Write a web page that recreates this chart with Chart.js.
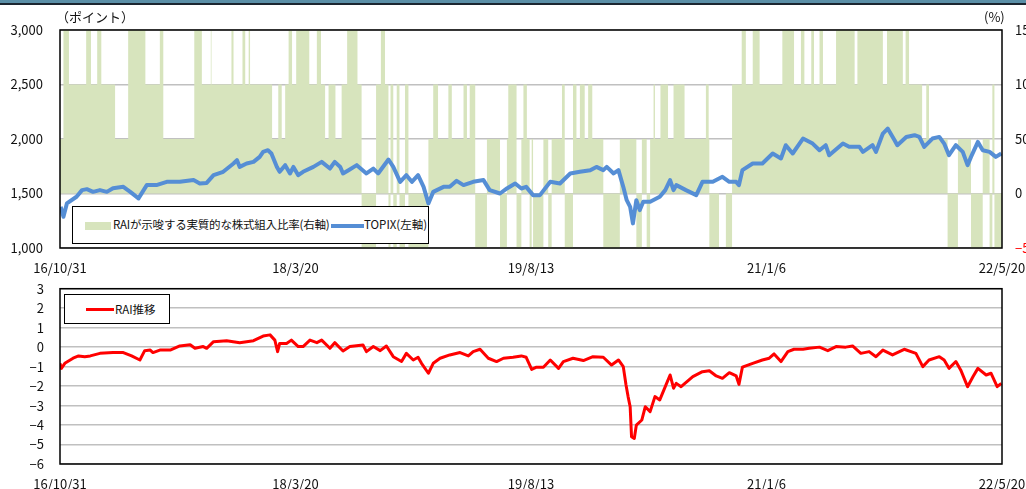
<!DOCTYPE html>
<html lang="ja">
<head>
<meta charset="UTF-8">
<title>RAI推移とTOPIX</title>
<script src="https://cdn.jsdelivr.net/npm/chart.js"></script>
<style>
  body { margin: 0; background: #fff; }
  #wrap { position: relative; width: 1026px; height: 489px; overflow: hidden; font-family: 'Noto Sans CJK JP', sans-serif; color: #111; }
  .band { position: absolute; left: 0; top: 0; width: 1026px; height: 3px; background: #5b8fa7; border-bottom: 2px solid #1c2630; }
  .cv { position: absolute; left: 0; width: 1026px; }
  #topBox { top: 0; height: 278px; }
  #botBox { top: 276px; height: 213px; }
  .unit { position: absolute; font-size: 13px; top: 7px; }
  .legend { position: absolute; background: #fff; border: 1px solid #000; font-size: 11.5px; }
  .legend > * { position: absolute; white-space: nowrap; }
</style>
</head>
<body>
<div id="wrap">
  <div class="band"></div>
  <div class="cv" id="topBox"><canvas id="topChart"></canvas></div>
  <div class="cv" id="botBox"><canvas id="botChart"></canvas></div>
  <div class="unit" style="left:56px">（ポイント）</div>
  <div class="unit" style="left:984px">(%)</div>
  <div class="legend" style="left:72px; top:206px; width:355px; height:36px;">
    <span style="left:12px; top:15px; width:26px; height:8px; background:#d7e4bd;"></span>
    <span style="left:40px; top:9px; letter-spacing:-0.2px;">RAIが示唆する実質的な株式組入比率(右軸)</span>
    <span style="left:258px; top:17px; width:33px; height:4px; background:#558ed5;"></span>
    <span style="left:291px; top:9px;">TOPIX(左軸)</span>
  </div>
  <div class="legend" style="left:64px; top:294px; width:104px; height:28px;">
    <span style="left:21px; top:13px; width:28px; height:3px; background:#ff0000;"></span>
    <span style="left:50px; top:6px;">RAI推移</span>
  </div>
</div>
<script>
// x positions are trading-day counts from 16/10/31
const tickDays = [0, 342, 684, 1026, 1368];
const tickLabels = ['16/10/31', '18/3/20', '19/8/13', '21/1/6', '22/5/20'];

// TOPIX (left axis)
const topixDays = [1, 5, 10, 24, 32, 39, 48, 58, 68, 77, 92, 102, 114, 126, 140, 155, 174, 194, 203, 213, 223, 237, 252, 257, 261, 271, 281, 290, 295, 302, 307, 315, 319, 327, 334, 339, 346, 353, 368, 380, 392, 399, 407, 411, 419, 431, 445, 455, 462, 477, 484, 494, 503, 511, 520, 528, 535, 542, 557, 566, 576, 586, 600, 615, 624, 639, 649, 661, 670, 677, 687, 697, 712, 726, 741, 755, 770, 779, 789, 794, 804, 811, 818, 823, 828, 832, 837, 842, 847, 857, 871, 879, 886, 891, 895, 900, 909, 924, 933, 948, 962, 972, 982, 986, 991, 1006, 1020, 1035, 1047, 1054, 1064, 1079, 1093, 1103, 1112, 1117, 1137, 1146, 1161, 1166, 1180, 1185, 1195, 1202, 1212, 1216, 1229, 1241, 1248, 1255, 1267, 1277, 1284, 1291, 1301, 1311, 1318, 1323, 1333, 1340, 1350, 1359, 1367];
const topixValues = [1378, 1287, 1409, 1470, 1531, 1540, 1515, 1531, 1515, 1549, 1561, 1515, 1455, 1577, 1577, 1607, 1607, 1623, 1592, 1597, 1668, 1699, 1775, 1806, 1744, 1775, 1790, 1836, 1882, 1897, 1867, 1744, 1699, 1760, 1684, 1744, 1668, 1699, 1744, 1790, 1729, 1790, 1744, 1684, 1714, 1760, 1684, 1729, 1684, 1812, 1744, 1607, 1668, 1607, 1668, 1561, 1409, 1515, 1561, 1561, 1616, 1577, 1607, 1623, 1531, 1500, 1546, 1592, 1546, 1561, 1485, 1485, 1607, 1592, 1684, 1699, 1714, 1744, 1714, 1744, 1684, 1714, 1561, 1439, 1378, 1226, 1439, 1348, 1424, 1424, 1470, 1531, 1623, 1531, 1577, 1561, 1531, 1485, 1607, 1607, 1653, 1607, 1607, 1577, 1714, 1775, 1775, 1867, 1821, 1943, 1867, 2004, 1958, 1897, 1943, 1851, 1958, 1928, 1928, 1882, 1943, 1882, 2050, 2096, 1989, 1943, 2019, 2035, 2019, 1928, 2004, 2019, 1958, 1851, 1943, 1882, 1760, 1836, 1973, 1897, 1882, 1836, 1867];

// RAI (bottom panel)
const raiDays = [0, 2, 7, 19, 27, 36, 44, 58, 77, 92, 104, 116, 123, 131, 135, 145, 160, 174, 189, 196, 208, 213, 223, 242, 261, 281, 295, 305, 312, 316, 319, 329, 336, 346, 353, 363, 373, 380, 392, 399, 411, 421, 440, 445, 455, 465, 474, 484, 496, 503, 513, 520, 525, 535, 542, 552, 566, 581, 593, 600, 610, 622, 634, 644, 658, 670, 677, 685, 692, 702, 712, 724, 731, 745, 760, 774, 789, 801, 811, 818, 822, 825, 828, 830, 834, 837, 845, 850, 857, 864, 871, 879, 886, 891, 895, 902, 919, 933, 943, 953, 962, 972, 982, 986, 991, 1006, 1020, 1030, 1037, 1047, 1057, 1066, 1079, 1088, 1103, 1115, 1127, 1141, 1151, 1163, 1175, 1185, 1195, 1209, 1226, 1243, 1253, 1262, 1277, 1284, 1291, 1301, 1308, 1318, 1326, 1333, 1345, 1352, 1361, 1367];
const raiValues = [-0.83, -1.09, -0.83, -0.57, -0.45, -0.49, -0.45, -0.32, -0.28, -0.28, -0.45, -0.66, -0.18, -0.15, -0.28, -0.15, -0.15, 0.06, 0.12, -0.06, 0.03, -0.06, 0.28, 0.33, 0.23, 0.33, 0.57, 0.63, 0.36, -0.23, 0.19, 0.19, 0.36, 0.03, 0.03, 0.36, 0.23, 0.36, -0.06, 0.23, -0.2, 0.03, 0.11, -0.23, 0.03, -0.18, 0.06, -0.49, -0.74, -0.32, -0.66, -0.52, -0.83, -1.34, -0.83, -0.57, -0.40, -0.28, -0.45, -0.23, -0.11, -0.57, -0.74, -0.57, -0.52, -0.45, -0.52, -1.14, -1.03, -1.03, -0.66, -1.09, -0.74, -0.57, -0.69, -0.49, -0.52, -0.92, -0.66, -1.00, -1.94, -2.54, -3.06, -4.60, -4.69, -4.00, -3.74, -3.06, -3.31, -2.54, -2.71, -2.03, -1.43, -2.11, -1.86, -2.03, -1.51, -1.26, -1.21, -1.48, -1.60, -1.31, -1.48, -1.91, -1.03, -0.83, -0.66, -0.57, -0.35, -0.74, -0.23, -0.11, -0.11, -0.06, 0.00, -0.18, 0.03, 0.00, 0.06, -0.32, -0.23, -0.49, -0.15, -0.40, -0.11, -0.32, -1.00, -0.66, -0.49, -0.66, -1.09, -0.74, -1.17, -2.03, -1.51, -1.09, -1.43, -1.34, -2.03, -1.86];

// equity ratio suggested by RAI (right axis, %): value holds from each day until the next one
const ratioDays = [0, 5, 13, 38, 45, 54, 60, 80, 99, 124, 145, 150, 195, 206, 219, 220, 249, 252, 265, 269, 274, 276, 308, 317, 322, 327, 332, 337, 343, 362, 373, 379, 385, 390, 400, 409, 417, 432, 438, 459, 466, 472, 477, 480, 484, 489, 493, 501, 506, 535, 542, 549, 564, 569, 586, 591, 595, 603, 620, 639, 649, 651, 663, 670, 673, 678, 682, 685, 687, 702, 709, 714, 729, 733, 745, 750, 755, 762, 767, 773, 789, 813, 837, 845, 852, 857, 862, 864, 872, 883, 891, 907, 938, 942, 943, 957, 967, 976, 990, 996, 1006, 1016, 1049, 1066, 1076, 1081, 1091, 1095, 1103, 1108, 1127, 1154, 1158, 1195, 1201, 1224, 1228, 1233, 1252, 1258, 1262, 1289, 1304, 1323, 1340, 1350, 1354, 1357, 1359, 1368];
const ratioValues = [-50, 50, 150, 100, 150, 100, 150, 100, 50, 150, 100, 150, 50, 150, 100, 150, 100, 150, 100, 150, 100, 150, 100, 50, 100, 50, 100, 150, 100, 150, 100, 150, 100, 50, 100, 50, 100, 150, 100, -50, 100, 150, 100, -50, 100, -50, 100, -50, 100, -50, 50, 100, 50, 100, 50, 100, 50, 100, -50, 50, -50, 50, 100, -50, 50, 100, 50, -50, 50, -50, 50, -50, 50, 100, -50, 100, 50, 100, 50, 100, 50, -50, 50, -50, 50, -50, 50, 100, 50, 100, 50, 100, 50, 100, 50, -50, 0, -50, 100, 150, 100, 150, 100, 150, 100, 150, 100, 150, 100, 150, 100, 150, 100, 150, 100, 150, 100, 150, 100, 50, 100, 50, -50, 50, -50, 50, -50, 100, -50, -50];

const GREEN = '#d7e4bd';
const BLUE = '#558ed5';
const RED = '#ff0000';
const GRID = '#c0c0c0';
const FONT = { family: "'Noto Sans CJK JP', sans-serif", size: 13 };

const minus = s => String(s).replace('-', '\u2212');
const toXY = (xs, ys) => xs.map((x, i) => ({ x: x, y: ys[i] }));

// plot frame like the spreadsheet plot area
const frame = {
  id: 'frame',
  afterDatasetsDraw(chart) {
    const a = chart.chartArea, c = chart.ctx;
    c.save();
    c.strokeStyle = '#000';
    c.lineWidth = 1.5;
    c.strokeRect(a.left, a.top, a.right - a.left, a.bottom - a.top);
    c.restore();
  }
};

function xAxis(h) {
  return {
    type: 'linear', min: 0, max: 1368,
    afterBuildTicks: s => { s.ticks = tickDays.map(v => ({ value: v })); },
    afterFit: s => { s.height = h; s.paddingLeft = 0; s.paddingRight = 0; },
    grid: { display: false, drawTicks: false },
    border: { display: false },
    ticks: {
      autoSkip: false, maxRotation: 0, padding: 12, color: '#111', font: FONT,
      callback: v => tickLabels[tickDays.indexOf(v)]
    }
  };
}

Chart.defaults.animation = false;
Chart.defaults.events = [];

new Chart(document.getElementById('topChart'), {
  type: 'line',
  data: {
    datasets: [
      {
        label: 'TOPIX(左軸)', data: toXY(topixDays, topixValues), yAxisID: 'y',
        borderColor: BLUE, borderWidth: 4, pointRadius: 0, borderJoinStyle: 'round', order: 1
      },
      {
        label: 'RAIが示唆する実質的な株式組入比率(右軸)', data: toXY(ratioDays, ratioValues), yAxisID: 'y1',
        stepped: 'after', fill: 'origin', backgroundColor: GREEN, borderColor: 'transparent', borderWidth: 0,
        pointRadius: 0, order: 2
      }
    ]
  },
  options: {
    responsive: true, maintainAspectRatio: false,
    layout: { padding: { top: 30, left: 0, right: 0, bottom: 0 } },
    plugins: { legend: { display: false }, tooltip: { enabled: false } },
    scales: {
      x: xAxis(30),
      y: {
        position: 'left', min: 1000, max: 3000,
        afterFit: s => { s.width = 60; s.paddingTop = 0; s.paddingBottom = 0; },
        grid: { color: GRID, lineWidth: 1.5, drawTicks: false },
        border: { display: false },
        ticks: { stepSize: 500, padding: 17, color: '#111', font: FONT, callback: v => v.toLocaleString('en-US') }
      },
      y1: {
        position: 'right', min: -50, max: 150,
        afterFit: s => { s.width = 24; s.paddingTop = 0; s.paddingBottom = 0; },
        grid: { display: false, drawTicks: false },
        border: { display: false },
        ticks: {
          stepSize: 50, padding: 13, font: FONT, callback: v => minus(v),
          color: c => (c.tick && c.tick.value < 0 ? RED : '#111')
        }
      }
    }
  },
  plugins: [frame]
});

new Chart(document.getElementById('botChart'), {
  type: 'line',
  data: {
    datasets: [{
      label: 'RAI推移', data: toXY(raiDays, raiValues),
      borderColor: RED, borderWidth: 3, pointRadius: 0, borderJoinStyle: 'round'
    }]
  },
  options: {
    responsive: true, maintainAspectRatio: false,
    layout: { padding: { top: 12.7, left: 0, right: 24, bottom: 0 } },
    plugins: { legend: { display: false }, tooltip: { enabled: false } },
    scales: {
      x: xAxis(25),
      y: {
        min: -6, max: 3,
        afterFit: s => { s.width = 60; s.paddingTop = 0; s.paddingBottom = 0; },
        grid: { color: GRID, lineWidth: 1.5, drawTicks: false },
        border: { display: false },
        ticks: { stepSize: 1, padding: 16, color: '#111', font: FONT, callback: v => minus(v) }
      }
    }
  },
  plugins: [frame]
});
</script>
</body>
</html>
